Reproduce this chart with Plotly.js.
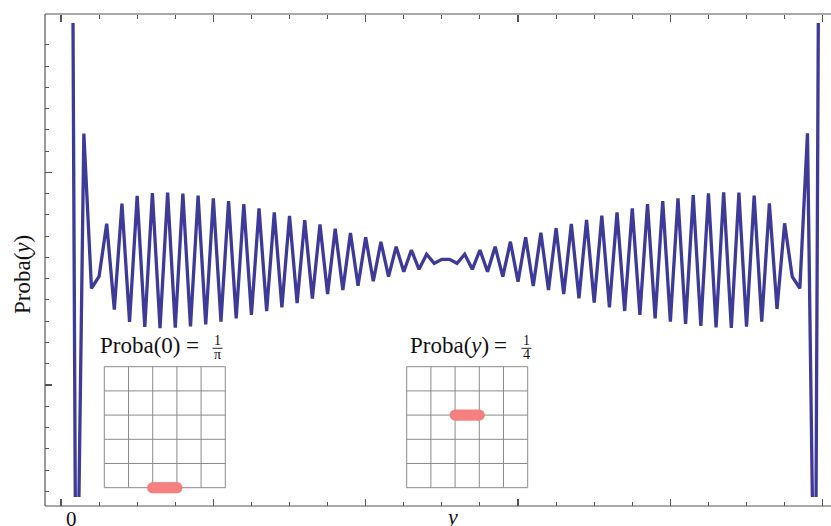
<!DOCTYPE html>
<html>
<head>
<meta charset="utf-8">
<script src="https://cdn.plot.ly/plotly-3.0.1.min.js"></script>
<style>html,body{margin:0;padding:0;overflow:hidden;background:#fff;}#chart{width:831px;height:526px;}</style>
</head>
<body>
<div id="chart"></div>
<script>
// ---- data ----
const positions = Array.from({length: 100}, (_, i) => i + 1);
const proba = [
  0.08044, 0.00518, 0.03183, 0.024548, 0.025113, 0.027587, 0.023551, 0.028528, 0.022973, 0.0289,
  0.022728, 0.029031, 0.022672, 0.029045, 0.022695, 0.029008, 0.022761, 0.028914, 0.022846, 0.028782,
  0.022977, 0.028655, 0.023137, 0.028504, 0.023293, 0.028311, 0.023471, 0.028123, 0.023655, 0.027959,
  0.023857, 0.027752, 0.024069, 0.027549, 0.02428, 0.027347, 0.024469, 0.02715, 0.024671, 0.026947,
  0.024878, 0.026736, 0.025094, 0.026505, 0.025329, 0.02635, 0.025442, 0.026148, 0.025724, 0.025913,
  0.025913, 0.025724, 0.026148, 0.025442, 0.02635, 0.025329, 0.026505, 0.025094, 0.02674, 0.024859,
  0.026947, 0.024657, 0.027164, 0.024469, 0.027371, 0.02428, 0.027573, 0.024078, 0.027761, 0.023871,
  0.027963, 0.023655, 0.028123, 0.023481, 0.028311, 0.023293, 0.028514, 0.023137, 0.028655, 0.022977,
  0.028782, 0.022869, 0.028937, 0.022775, 0.029017, 0.022714, 0.029064, 0.022681, 0.029045, 0.022742,
  0.028904, 0.022977, 0.028546, 0.023575, 0.027606, 0.025094, 0.024548, 0.031839, 0.00518, 0.08044
];
const tickLabels = ["0"];
const xTitle = "<i>y</i>";
const yTitle = "Proba(<i>y</i>)";
const insetTitles = [
  {main: "Proba(0)", num: "1", den: "π"},
  {main: "Proba(<i>y</i>)", num: "1", den: "4"}
];
const gridCells = 5;
// domino: [row of horizontal grid line (0 = top), start column line]
const dominoes = [[5, 2], [2, 2]];

// ---- layout helpers (pixel -> paper) ----
const L = 45, R = 831, T = 14, B = 506;
const W = R - L, H = B - T;
const px = p => (p - L) / W;
const py = p => (B - p) / H;
const serif = "Liberation Serif, Times New Roman, serif";
const axisCol = "#555";

const shapes = [];
const annotations = [];

// frame
shapes.push({type: "line", xref: "paper", yref: "paper", x0: 0, x1: 0, y0: 0, y1: 1, line: {color: axisCol, width: 1.2}});
shapes.push({type: "line", xref: "paper", yref: "paper", x0: 0, x1: 1, y0: 0, y1: 0, line: {color: axisCol, width: 1.2}});
shapes.push({type: "line", xref: "paper", yref: "paper", x0: 0, x1: 1, y0: 1, y1: 1, line: {color: axisCol, width: 1.2}});

// insets
const insets = [
  {left: 104.3, top: 366.7, cell: 24.2, titleX: 98, eqX: 192, fracX: 217.5},
  {left: 406.7, top: 366.7, cell: 24.2, titleX: 407.5, eqX: 500, fracX: 526.5}
];
insets.forEach((g, k) => {
  for (let i = 0; i <= gridCells; i++) {
    const xx = g.left + i * g.cell, yy = g.top + i * g.cell;
    shapes.push({type: "line", xref: "paper", yref: "paper", x0: px(xx), x1: px(xx), y0: py(g.top), y1: py(g.top + gridCells * g.cell), line: {color: "#8c8c8c", width: 1}});
    shapes.push({type: "line", xref: "paper", yref: "paper", x0: px(g.left), x1: px(g.left + gridCells * g.cell), y0: py(yy), y1: py(yy), line: {color: "#8c8c8c", width: 1}});
  }
  const d = dominoes[k];
  const dy = g.top + d[0] * g.cell;
  const dx0 = g.left + d[1] * g.cell, dx1 = dx0 + g.cell;
  const col = "rgb(244,128,128)", r = 5.6;
  shapes.push({type: "line", xref: "paper", yref: "paper", x0: px(dx0), x1: px(dx1), y0: py(dy), y1: py(dy), line: {color: col, width: 2 * r}});
  [dx0, dx1].forEach(cx => shapes.push({type: "circle", xref: "paper", yref: "paper", x0: px(cx - r), x1: px(cx + r), y0: py(dy - r), y1: py(dy + r), fillcolor: col, line: {width: 0}}));
  const t = insetTitles[k];
  annotations.push({xref: "paper", yref: "paper", x: px(g.titleX), y: py(345.5), xanchor: "left", yanchor: "middle", text: t.main, showarrow: false, font: {family: serif, size: 23, color: "#111"}});
  annotations.push({xref: "paper", yref: "paper", x: px(g.eqX), y: py(345.5), xanchor: "center", yanchor: "middle", text: "=", showarrow: false, font: {family: serif, size: 23, color: "#111"}});
  annotations.push({xref: "paper", yref: "paper", x: px(g.fracX), y: py(340.5), xanchor: "center", yanchor: "middle", text: t.num, showarrow: false, font: {family: serif, size: 14, color: "#111"}});
  annotations.push({xref: "paper", yref: "paper", x: px(g.fracX), y: py(354.5), xanchor: "center", yanchor: "middle", text: t.den, showarrow: false, font: {family: serif, size: 14, color: "#111"}});
  shapes.push({type: "line", xref: "paper", yref: "paper", x0: px(g.fracX - 5), x1: px(g.fracX + 5), y0: py(348.3), y1: py(348.3), line: {color: "#111", width: 0.9}});
});

// axis texts
annotations.push({xref: "paper", yref: "paper", x: px(71.7), y: py(518.5), xanchor: "center", yanchor: "middle", text: tickLabels[0], showarrow: false, font: {family: serif, size: 21, color: "#111"}});
annotations.push({xref: "paper", yref: "paper", x: px(452), y: py(516), xanchor: "center", yanchor: "middle", text: xTitle, showarrow: false, font: {family: serif, size: 22, color: "#111"}});
annotations.push({xref: "paper", yref: "paper", x: px(22), y: py(275), xanchor: "center", yanchor: "middle", textangle: -90, text: yTitle, showarrow: false, font: {family: serif, size: 23, color: "#111"}});

const xPerPx = 1 / 7.617;
const xRange = [(L - 61) * xPerPx, (R - 61) * xPerPx];
const yTop = 23, yBot = 497;
const yRange = [0.014732, 0.037028];

const xTickStyle = {
  range: xRange, ticks: "inside", tick0: 0, dtick: 20, ticklen: 7, tickwidth: 1.2, tickcolor: axisCol,
  minor: {ticks: "inside", tick0: 0, dtick: 5, ticklen: 4, tickwidth: 1, tickcolor: axisCol},
  showticklabels: false, showgrid: false, zeroline: false, showline: false, fixedrange: true
};

const traces = [
  {x: positions, y: proba, type: "scatter", mode: "lines", line: {color: "#3d3a98", width: 3.3}, hoverinfo: "skip", showlegend: false},
  {x: [positions[0]], y: [proba[2]], xaxis: "x2", yaxis: "y", type: "scatter", mode: "markers", marker: {opacity: 0}, hoverinfo: "skip", showlegend: false}
];

const layout = {
  width: 831, height: 526,
  margin: {l: L, r: 831 - R, t: T, b: 526 - B, pad: 0},
  paper_bgcolor: "#fff", plot_bgcolor: "#fff",
  showlegend: false,
  xaxis: Object.assign({domain: [0, 1], anchor: "free", position: 0, side: "bottom"}, xTickStyle),
  xaxis2: Object.assign({overlaying: "x", anchor: "free", position: 1, side: "top"}, xTickStyle),
  yaxis: {
    domain: [(B - yBot) / H, (B - yTop) / H], range: yRange,
    ticks: "inside", tick0: 0, dtick: 0.01, ticklen: 7, tickwidth: 1.2, tickcolor: axisCol,
    minor: {ticks: "inside", tick0: 0, dtick: 0.001, ticklen: 4, tickwidth: 1, tickcolor: axisCol},
    showticklabels: false, showgrid: false, zeroline: false, showline: false, fixedrange: true
  },
  shapes: shapes,
  annotations: annotations
};

Plotly.newPlot("chart", traces, layout, {staticPlot: true, displayModeBar: false});
</script>
</body>
</html>
